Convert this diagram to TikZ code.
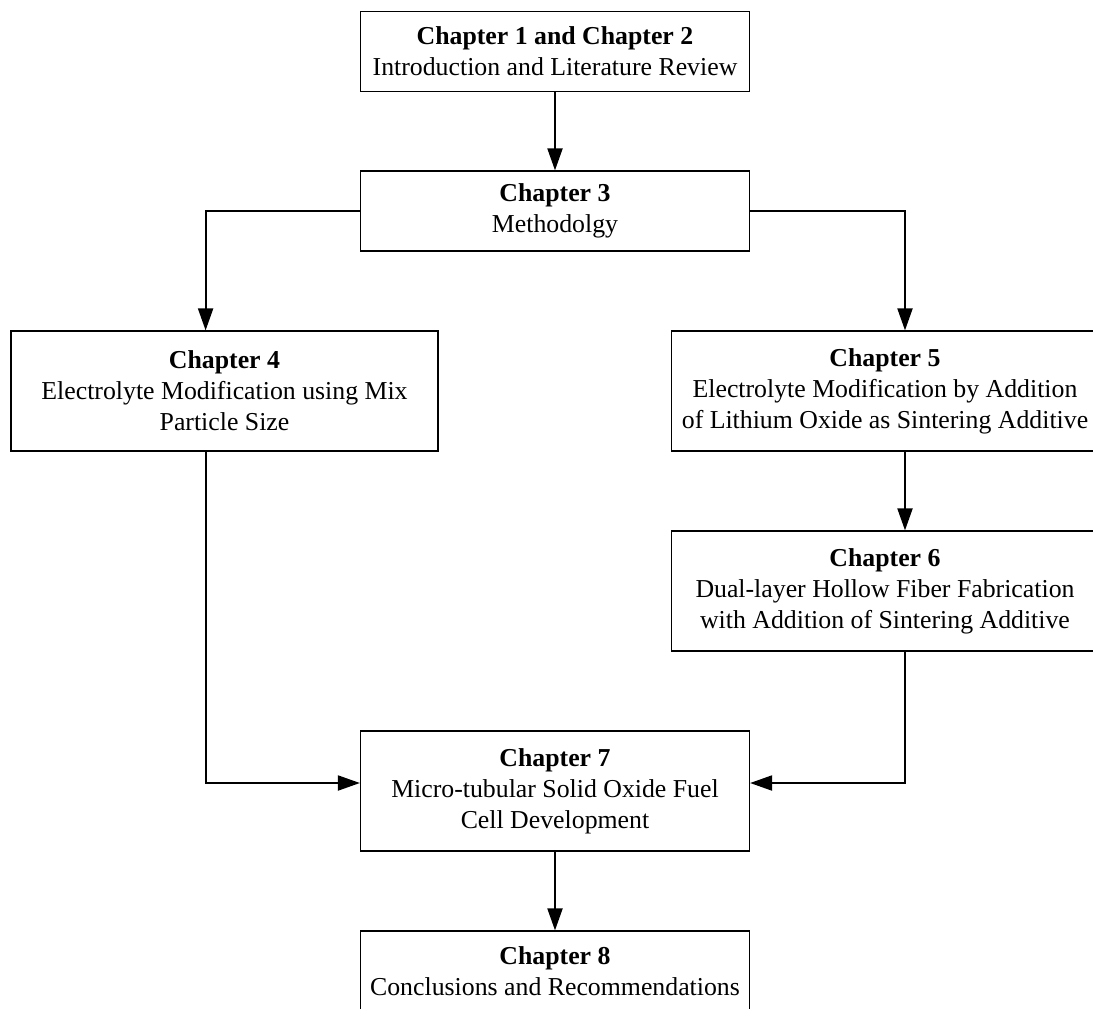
\documentclass[tikz,border=0pt]{standalone}
\usepackage{fontspec}
\setmainfont{Liberation Serif}
\usetikzlibrary{arrows.meta}
\begin{document}
\begin{tikzpicture}[x=0.5pt,y=-0.5pt,
    chapbox/.style={draw,line width=0.6pt,inner sep=0pt,align=center,
      font=\fontsize{12.9}{15.5}\selectfont,minimum width=194.5pt,minimum height=40pt},
    widebox/.style={chapbox,minimum width=213.5pt,minimum height=60pt},
    flow/.style={-{Triangle[length=11pt,width=7.5pt]},line width=1pt}]
    \clip (0,0) rectangle (1093,1008);
    \node[chapbox] (ch1) at (555,51.5) {\textbf{Chapter 1 and Chapter 2}\\Introduction and Literature Review};
    \node[chapbox] (ch3) at (555,211) {\textbf{Chapter 3}\\Methodolgy};
    \node[widebox] (ch4) at (224.5,391) {\textbf{Chapter 4}\\Electrolyte Modification using Mix\\Particle Size};
    \node[widebox] (ch5) at (885,391) {\textbf{Chapter 5}\\Electrolyte Modification by Addition\\of Lithium Oxide as Sintering Additive};
    \node[widebox] (ch6) at (885,591) {\textbf{Chapter 6}\\Dual-layer Hollow Fiber Fabrication\\with Addition of Sintering Additive};
    \node[chapbox,minimum height=60pt] (ch7) at (555,791) {\textbf{Chapter 7}\\Micro-tubular Solid Oxide Fuel\\Cell Development};
    \node[chapbox] (ch8) at (555,971) {\textbf{Chapter 8}\\Conclusions and Recommendations};
    % columns of the side arrows
    \coordinate (lcol) at (205.6,0);
    \coordinate (rcol) at (905,0);
    \draw[flow] (ch1) -- (ch3);
    \draw[flow] (ch3.west) -| (lcol |- ch4.north);
    \draw[flow] (ch3.east) -| (rcol |- ch5.north);
    \draw[flow] (rcol |- ch5.south) -- (rcol |- ch6.north);
    \draw[flow] (lcol |- ch4.south) |- ([yshift=4pt]ch7.west);
    \draw[flow] (rcol |- ch6.south) |- ([yshift=4pt]ch7.east);
    \draw[flow] (ch7) -- (ch8);
\end{tikzpicture}
\end{document}
